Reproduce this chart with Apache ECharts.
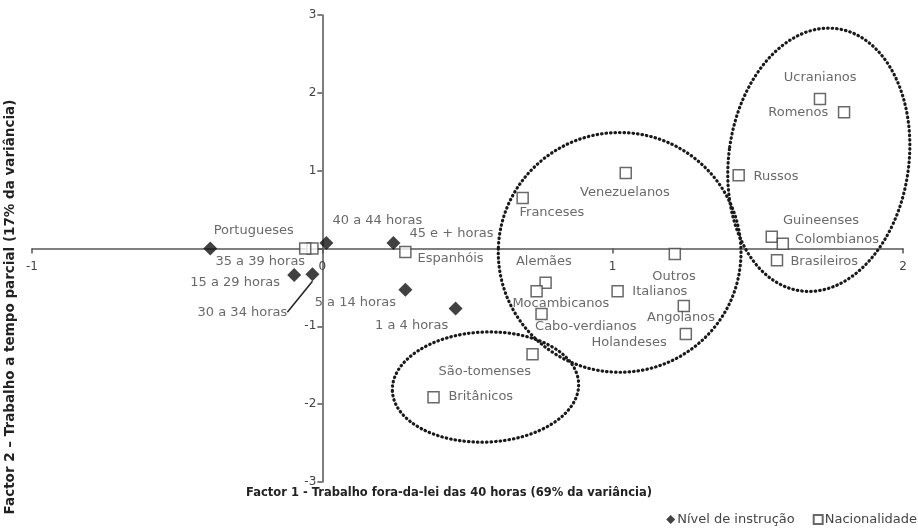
<!DOCTYPE html>
<html>
<head>
<meta charset="utf-8">
<script src="https://cdn.jsdelivr.net/npm/echarts@6/dist/echarts.min.js"></script>
<style>
  html, body { margin: 0; padding: 0; background: #fff; }
  #chart { width: 918px; height: 532px; }
</style>
</head>
<body>
<div id="chart"></div>
<script>
// Nível de instrução (diamonds)
const instrucaoNames = ['35 a 39 horas', '15 a 29 horas', '30 a 34 horas', '40 a 44 horas', '45 e + horas', '5 a 14 horas', '1 a 4 horas'];
const instrucaoX = [-0.386, -0.097, -0.034, 0.014, 0.245, 0.286, 0.459];
const instrucaoY = [0.0, -0.34, -0.33, 0.07, 0.07, -0.53, -0.77];

// Nacionalidade (squares)
const nacionalNames = ['Portugueses', '', 'Espanhóis', 'Franceses', 'Venezuelanos', 'Alemães', 'Mocambicanos',
  'Cabo-verdianos', 'Italianos', 'Outros', 'Angolanos', 'Holandeses', 'Ucranianos', 'Romenos', 'Russos',
  'Guineenses', 'Colombianos', 'Brasileiros', 'São-tomenses', 'Britânicos'];
const nacionalX = [-0.034, -0.059, 0.286, 0.690, 1.045, 0.769, 0.738, 0.755, 1.017, 1.214, 1.245, 1.252,
  1.714, 1.797, 1.434, 1.548, 1.586, 1.566, 0.724, 0.383];
const nacionalY = [0.0, 0.0, -0.045, 0.65, 0.97, -0.44, -0.55, -0.84, -0.55, -0.07, -0.74, -1.10,
  1.92, 1.75, 0.94, 0.15, 0.06, -0.15, -1.36, -1.91];

// grouping ellipses (centre and radii in data units)
const ellipseCx = [1.024, 1.71, 0.562];
const ellipseCy = [-0.05, 1.14, -1.78];
const ellipseRx = [0.418, 0.31, 0.321];
const ellipseRy = [1.54, 1.70, 0.707];

const xTicks = [-1, 2, 1];
const yTicks = [-3, 3, 1];

// ellipse tilt (radians) and label placement (offset of label centre from point, px)
const ellipseTilt = [-0.04, -0.14, 0.04];
const labelOffset = {
  '35 a 39 horas': [50, 13], '15 a 29 horas': [-59, 8], '30 a 34 horas': [-70, 38],
  '40 a 44 horas': [51, -22], '45 e + horas': [58, -9], '5 a 14 horas': [-50, 13], '1 a 4 horas': [-44, 17],
  'Portugueses': [-58, -17], 'Espanhóis': [46, 7], 'Franceses': [30, 15], 'Venezuelanos': [0, 20],
  'Alemães': [-1, -20], 'Mocambicanos': [25, 13], 'Cabo-verdianos': [45, 13], 'Italianos': [43, 1],
  'Outros': [0, 23], 'Angolanos': [-2, 12], 'Holandeses': [-56, 9], 'Ucranianos': [1, -21],
  'Romenos': [-45, 1], 'Russos': [38, 2], 'Guineenses': [50, -15], 'Colombianos': [55, -3],
  'Brasileiros': [48, 2], 'São-tomenses': [-47, 18], 'Britânicos': [48, 0]
};

const FONT = 'DejaVu Sans';
const GRID = { left: 32, right: 15, top: 15, bottom: 50 };
const W = 918, H = 532;
// place the axes on the zero lines (offset from the grid edge)
const xZeroOffset = -((H - GRID.top - GRID.bottom) * (0 - yTicks[0]) / (yTicks[1] - yTicks[0]));
const yZeroOffset = -((W - GRID.left - GRID.right) * (0 - xTicks[0]) / (xTicks[1] - xTicks[0]));

function pointData(names, xs, ys, size) {
  return names.map((n, i) => {
    const off = labelOffset[n] || [0, 0];
    const item = {
      name: n,
      value: [xs[i], ys[i]],
      label: {
        show: n !== '',
        position: [size / 2 + off[0], size / 2 + off[1]],
        align: 'center',
        verticalAlign: 'middle'
      }
    };
    if (n === '30 a 34 horas') {
      item.labelLine = { show: true, lineStyle: { color: '#222', width: 1.5 } };
    }
    return item;
  });
}

const ellipseData = ellipseCx.map((c, i) => [c, ellipseCy[i], ellipseRx[i], ellipseRy[i], ellipseTilt[i]]);

const chart = echarts.init(document.getElementById('chart'));

chart.setOption({
  backgroundColor: '#fff',
  animation: false,
  textStyle: { fontFamily: FONT },
  grid: GRID,
  xAxis: {
    type: 'value',
    position: 'bottom',
    offset: xZeroOffset,
    min: xTicks[0], max: xTicks[1], interval: xTicks[2],
    splitLine: { show: false },
    axisLine: { onZero: false, lineStyle: { color: '#555', width: 1.5 } },
    axisTick: { show: true, length: 5, lineStyle: { color: '#555', width: 1.5 } },
    axisLabel: { color: '#444', fontSize: 12, fontFamily: FONT, margin: 12 }
  },
  yAxis: {
    type: 'value',
    position: 'left',
    offset: yZeroOffset,
    min: yTicks[0], max: yTicks[1], interval: yTicks[2],
    splitLine: { show: false },
    axisLine: { onZero: false, lineStyle: { color: '#555', width: 1.5 } },
    axisTick: { show: true, length: 5, lineStyle: { color: '#555', width: 1.5 } },
    axisLabel: { color: '#444', fontSize: 12, fontFamily: FONT, margin: 6,
      formatter: v => (v === 0 ? '' : String(v)) }
  },
  legend: {
    right: -4, bottom: 1,
    itemWidth: 9, itemHeight: 9, itemGap: 18,
    textStyle: { color: '#444', fontSize: 13, fontFamily: FONT, padding: [0, 0, 0, -3] },
    data: ['Nível de instrução', 'Nacionalidade']
  },
  graphic: [
    {
      type: 'text', x: 449, y: 493,
      style: { text: 'Factor 1 - Trabalho fora-da-lei das 40 horas (69% da variância)',
        font: 'bold 11.5px "DejaVu Sans"', fill: '#222', align: 'center', verticalAlign: 'middle' }
    },
    {
      type: 'text', x: 10, y: 307, rotation: Math.PI / 2,
      style: { text: 'Factor 2 – Trabalho a tempo parcial (17% da variância)',
        font: 'bold 13.5px "DejaVu Sans"', fill: '#222', align: 'center', verticalAlign: 'middle' }
    }
  ],
  series: [
    {
      type: 'custom',
      silent: true,
      z: 1,
      data: ellipseData,
      renderItem: (params, api) => {
        const c = api.coord([api.value(0), api.value(1)]);
        const s = api.size([api.value(2), api.value(3)]);
        return {
          type: 'ellipse',
          x: c[0], y: c[1],
          rotation: api.value(4),
          shape: { cx: 0, cy: 0, rx: s[0], ry: s[1] },
          style: { fill: 'none', stroke: '#1a1a1a', lineWidth: 3.2, lineDash: [0.5, 4], lineCap: 'round' }
        };
      }
    },
    {
      name: 'Nível de instrução',
      type: 'scatter',
      symbol: 'diamond',
      symbolSize: 14,
      z: 3,
      itemStyle: { color: '#111' },
      label: { color: '#444', fontSize: 13, fontFamily: FONT, formatter: '{b}' },
      data: pointData(instrucaoNames, instrucaoX, instrucaoY, 14)
    },
    {
      name: 'Nacionalidade',
      type: 'scatter',
      symbol: 'rect',
      symbolSize: 11,
      z: 3,
      itemStyle: { color: '#fff', borderColor: '#444', borderWidth: 1.5 },
      label: { color: '#444', fontSize: 13, fontFamily: FONT, formatter: '{b}' },
      data: pointData(nacionalNames, nacionalX, nacionalY, 11)
    }
  ]
});
</script>
</body>
</html>
